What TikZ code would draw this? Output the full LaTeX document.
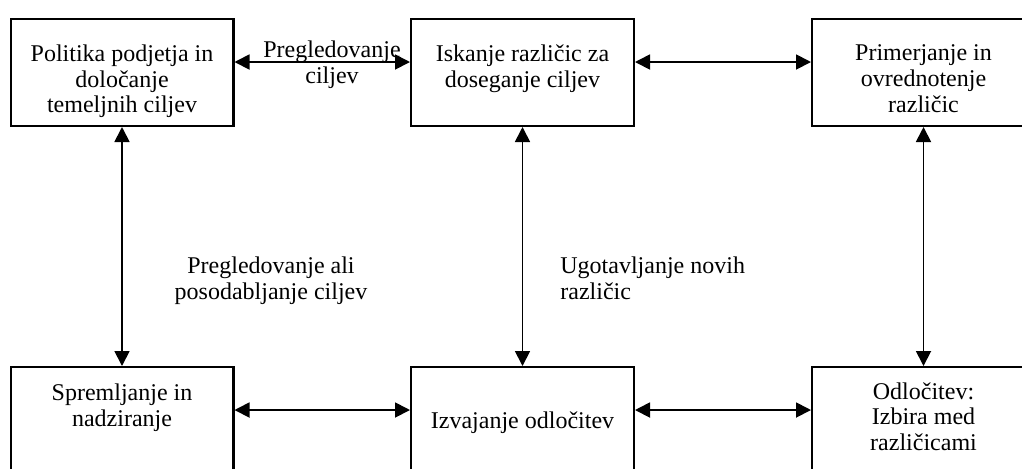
\documentclass[tikz,border=0pt]{standalone}
\usepackage{fontspec}
\setmainfont{Liberation Serif}
\usetikzlibrary{positioning}
\usetikzlibrary{arrows.meta}

\begin{document}
\begin{tikzpicture}[
        x=0.5pt, y=-0.5pt,
        box/.style = {
        draw, line width=1.1pt, minimum width=111.4pt, minimum height=53.4pt, inner sep=0pt
        },
        txt/.style = {
        align=center, inner sep=0pt, font=\fontsize{12}{12.8}\selectfont
        },
        arr/.style = {
        line width=0.9pt, {Triangle[length=7.5pt, width=7.5pt]}-{Triangle[length=7.5pt, width=7.5pt]}
        }
        ]
        \useasboundingbox (0,0) rectangle (1022,468);
        \clip (0,0) rectangle (1022,468);

        \node[box] (pol) at (122,72.5) {};
        \node[box] (isk) at (522.5,72.5) {};
        \node[box] (pri) at (923.5,72.5) {};
        \node[box] (spr) at (122,420.5) {};
        \node[box] (izv) at (522.5,420.5) {};
        \node[box] (odl) at (923.5,420.5) {};

        \node[txt, below=13.3pt of pol.north] (polt) {Politika podjetja in\\določanje\\temeljnih ciljev};
        \node[txt, below=13.3pt of isk.north] (iskt) {Iskanje različic za\\doseganje ciljev};
        \node[txt, below=13.3pt of pri.north] (prit) {Primerjanje in\\ovrednotenje\\različic};
        \node[txt, below=8.8pt of spr.north] (sprt) {Spremljanje in\\nadziranje};
        \node[txt, below=22.6pt of izv.north] (izvt) {Izvajanje odločitev};
        \node[txt, below=8pt of odl.north] (odlt) {Odločitev:\\Izbira med\\različicami};

        \draw[arr] ([yshift=5.25pt]pol.east) -- ([yshift=5.25pt]isk.west);
        \draw[arr] ([yshift=5.25pt]isk.east) -- ([yshift=5.25pt]pri.west);
        \draw[arr] ([yshift=5.25pt]spr.east) -- ([yshift=5.25pt]izv.west);
        \draw[arr] ([yshift=5.25pt]izv.east) -- ([yshift=5.25pt]odl.west);
        \draw[arr] (pol.south) -- (spr.north);
        \draw[arr] (isk.south) -- (izv.north);
        \draw[arr] (pri.south) -- (odl.north);

        \node[txt, anchor=north] (pregc) at (332,40.5) {Pregledovanje\\ciljev};
        \node[txt, anchor=north] (pregp) at (271,256.5) {Pregledovanje ali\\posodabljanje ciljev};
        \node[txt, align=left, anchor=north west] (ugot) at (560,256.5) {Ugotavljanje novih\\različic};
    \end{tikzpicture}
\end{document}
